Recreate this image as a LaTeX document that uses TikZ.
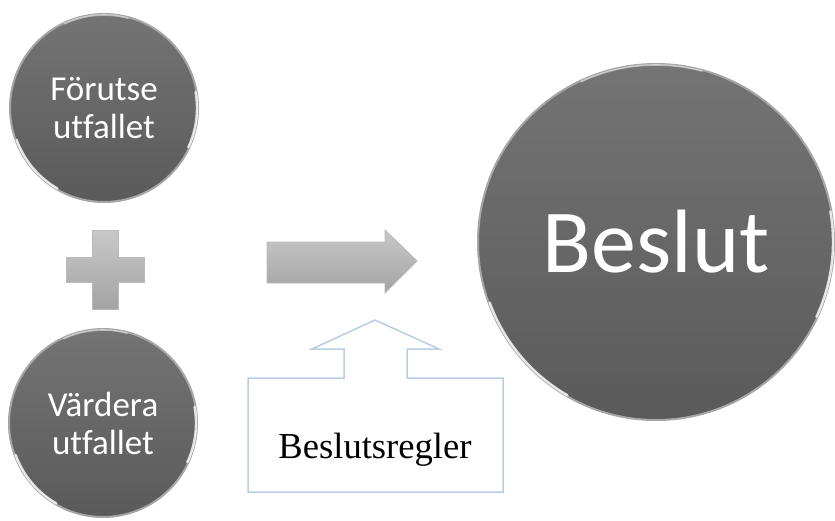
\documentclass[tikz,border=0pt]{standalone}
\usepackage{fontspec}
\setmainfont{Liberation Serif}
\newfontfamily\calfont[Ligatures=NoCommon]{Carlito}
\definecolor{discTop}{HTML}{747474}
\definecolor{discBot}{HTML}{5A5A5A}
\definecolor{rimGray}{HTML}{A6A6A6}
\definecolor{calloutBlue}{HTML}{B9CDE5}
\definecolor{shapeTop}{HTML}{C8C8C8}
\definecolor{shapeBot}{HTML}{A4A4A4}
\definecolor{shapeEdge}{HTML}{8C8C8C}
\begin{document}
\begin{tikzpicture}[x=1pt,y=-1pt,
  disc/.style={circle, top color=discTop, bottom color=discBot, draw=rimGray,
    line width=2pt, text=white, align=center, inner sep=0pt},
  gloss/.style={white, line width=2.4pt, opacity=0.8, line cap=round},
  bevel/.style={top color=shapeTop, bottom color=shapeBot, draw=shapeEdge!60, line width=0.8pt},
  callout/.style={draw=calloutBlue, line width=1.5pt, fill=white},
  smalltext/.style={font=\calfont\fontsize{35}{38}\selectfont},
]
\useasboundingbox (0,0) rectangle (835,520);

% discs
\node[disc, minimum size=188pt, smalltext] (pred) at (104,108) {Förutse\\utfallet};
\node[disc, minimum size=188pt, smalltext] (value) at (103,423) {Värdera\\utfallet};
\node[disc, minimum size=356pt, font=\calfont\fontsize{90}{96}\selectfont] (decision) at (656,242) {Beslut};

% glossy highlights along the rim
\foreach \n/\r in {pred/93, value/93, decision/177}{
  \draw[gloss] (\n.center) ++(200:\r pt) arc[start angle=200, end angle=240, radius=\r pt];
  \draw[gloss] (\n.center) ++(10:\r pt) arc[start angle=10, end angle=-25, radius=\r pt];
  \draw[gloss, opacity=0.5, line width=1.6pt] (\n.center) ++(75:\r pt) arc[start angle=75, end angle=115, radius=\r pt];
}

% plus sign
\path[bevel] (92,230) -- (118,230) -- (118,257) -- (144,257) -- (144,282) -- (118,282)
  -- (118,309) -- (92,309) -- (92,282) -- (66,282) -- (66,257) -- (92,257) -- cycle;

% block arrow
\path[bevel] (267,242) -- (385,242) -- (385,230) -- (417,261) -- (385,293) -- (385,283)
  -- (267,283) -- cycle;

% callout with rules
\path[callout] (248,378) -- (344,378) -- (344,349) -- (312,349) -- (375,320) -- (439,349)
  -- (407,349) -- (407,378) -- (503,378) -- (503,492) -- (248,492) -- cycle;
\node[font=\fontsize{36.6}{40}\selectfont, inner sep=0pt, anchor=base] (rules) at (375,458) {Beslutsregler};
\end{tikzpicture}
\end{document}
